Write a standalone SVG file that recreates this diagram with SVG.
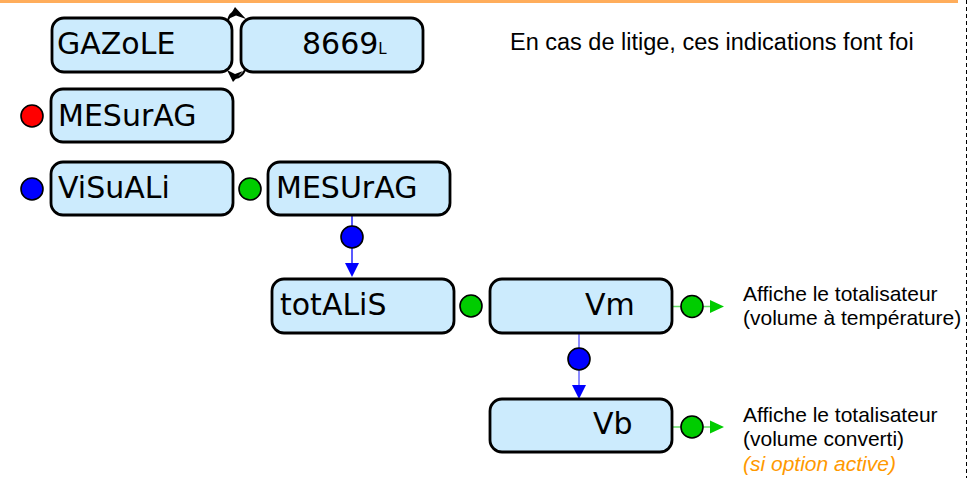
<svg xmlns="http://www.w3.org/2000/svg" width="969" height="478" viewBox="0 0 969 478">
<defs>
<style>
.box{fill:#CCEBFD;stroke:#000;stroke-width:2.8}
.lbl{font-family:"DejaVu Sans",Verdana,sans-serif;font-size:30px;fill:#000}
.note{font-family:"Liberation Sans",Arial,sans-serif;font-size:21px;fill:#000}
.dot{stroke:#000;stroke-width:1.6}
.g{fill:#00CC00}
.b{fill:#0000FF}
.r{fill:#FF0000}
</style>
</defs>
<rect x="0" y="0" width="958" height="3" fill="#FFAD5B"/>
<line x1="966.5" y1="0" x2="966.5" y2="478" stroke="#000" stroke-width="1" stroke-dasharray="4 3"/>
<g id="connectors">
<path d="M228,20 Q230,13 236,11" fill="none" stroke="#000" stroke-width="2"/>
<path d="M235,7 L246,19 L236,15.5 L228,19 Z" fill="#000"/>
<path d="M245,70 Q242,77 235,78" fill="none" stroke="#000" stroke-width="2"/>
<path d="M233,82 L227,70 L235,74 L243,71 Z" fill="#000"/>
<line x1="352" y1="215" x2="352" y2="265" stroke="#2222FF" stroke-width="1.5"/>
<circle class="dot b" cx="352" cy="237" r="11"/>
<path d="M345,263 L359,263 L352,277 Z" fill="#0000FF"/>
<line x1="579" y1="333" x2="579" y2="386" stroke="#6666FF" stroke-width="1.5"/>
<circle class="dot b" cx="579" cy="359" r="11"/>
<path d="M572,385 L586,385 L579,399 Z" fill="#0000FF"/>
<line x1="672" y1="306.5" x2="712" y2="306.5" stroke="#66DD66" stroke-width="1.5"/>
<circle class="dot g" cx="692" cy="306.5" r="11"/>
<path d="M710,300 L724,306.5 L710,313 Z" fill="#00CC00"/>
<line x1="672" y1="427" x2="712" y2="427" stroke="#66DD66" stroke-width="1.5"/>
<circle class="dot g" cx="692" cy="427" r="11"/>
<path d="M710,420.5 L724,427 L710,433.5 Z" fill="#00CC00"/>
<circle class="dot g" cx="250" cy="189" r="11"/>
<circle class="dot g" cx="471" cy="306" r="11"/>
</g>
<g id="n-gazole">
<rect class="box" x="52" y="18" width="180" height="54" rx="12"/>
<text class="lbl" x="57" y="54">GAZoLE</text>
</g>
<g id="n-8669">
<rect class="box" x="241" y="18" width="182" height="54" rx="12"/>
<text class="lbl" x="302" y="54">8669<tspan font-size="15">L</tspan></text>
</g>
<g id="n-mesurag1">
<circle class="dot r" cx="32" cy="116" r="11"/>
<rect class="box" x="51" y="89" width="182" height="53" rx="12"/>
<text class="lbl" x="58" y="126">MESurAG</text>
</g>
<g id="n-visuali">
<circle class="dot b" cx="32" cy="189" r="11"/>
<rect class="box" x="51" y="162" width="182" height="53" rx="12"/>
<text class="lbl" x="58" y="198">ViSuALi</text>
</g>
<g id="n-mesurag2">
<rect class="box" x="268" y="162" width="182" height="53" rx="12"/>
<text class="lbl" x="276" y="198">MESUrAG</text>
</g>
<g id="n-totalis">
<rect class="box" x="272" y="279" width="182" height="54" rx="12"/>
<text class="lbl" x="280" y="315">totALiS</text>
</g>
<g id="n-vm">
<rect class="box" x="490" y="279" width="182" height="54" rx="12"/>
<text class="lbl" x="585" y="315">Vm</text>
</g>
<g id="n-vb">
<rect class="box" x="490" y="399" width="182" height="53" rx="12"/>
<text class="lbl" x="593" y="434">Vb</text>
</g>
<g id="notes">
<text class="note" x="510" y="50" style="font-size:23.5px">En cas de litige, ces indications font foi</text>
<text class="note" x="743" y="301">Affiche le totalisateur</text>
<text class="note" x="743" y="325">(volume à température)</text>
<text class="note" x="743" y="422">Affiche le totalisateur</text>
<text class="note" x="743" y="446">(volume converti)</text>
<text class="note" x="743" y="471" style="fill:#FF9900;font-style:italic">(si option active)</text>
</g>
</svg>
